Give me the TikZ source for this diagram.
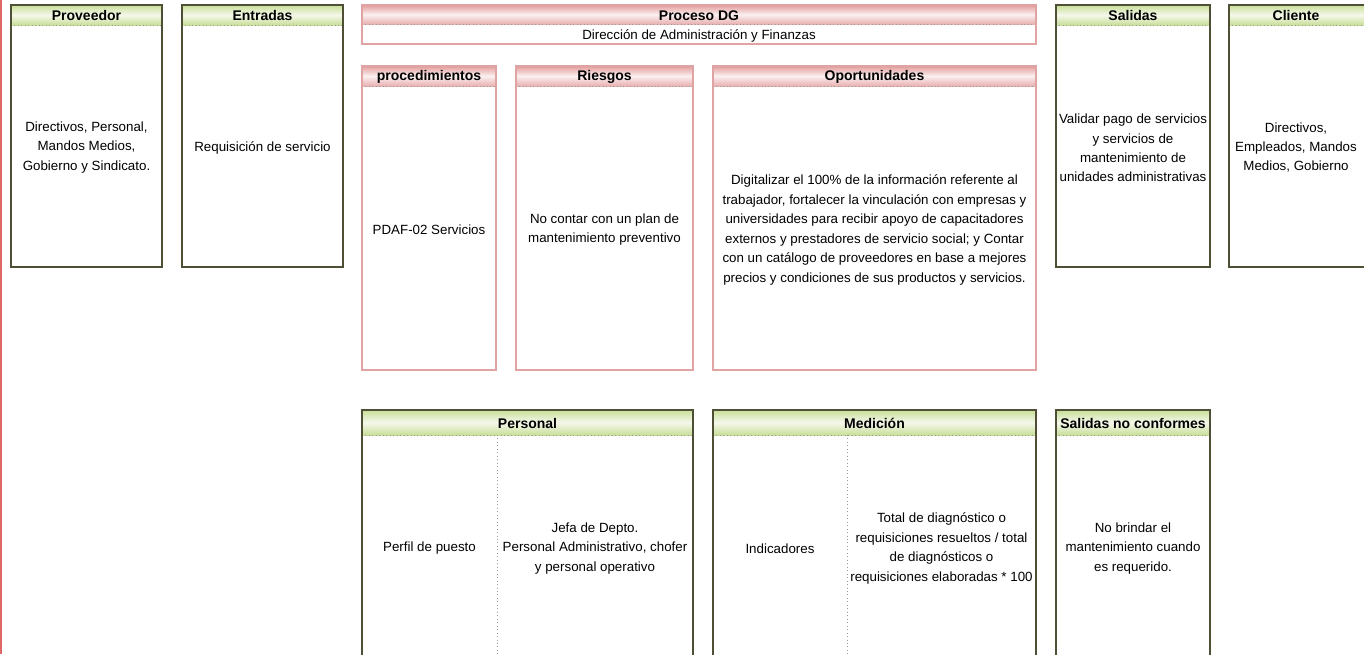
\documentclass[tikz,border=0pt]{standalone}
\usepackage{fontspec}
\setmainfont{Liberation Sans}
\usetikzlibrary{backgrounds}

\definecolor{gline}{HTML}{4F4F35}
\definecolor{gfill}{HTML}{C9DE98}
\definecolor{rline}{HTML}{E0A3A3}
\definecolor{rfill}{HTML}{E39C9C}
\definecolor{sepline}{HTML}{9A9A9A}
\definecolor{edge}{HTML}{E06868}

\tikzset{
  gbox/.style={draw=gline, line width=1.5pt},
  rbox/.style={draw=rline, line width=1.5pt},
  ghead/.style={top color=gfill, bottom color=gfill, middle color=gfill!20},
  rhead/.style={top color=rfill, bottom color=rfill!80, middle color=rfill!15},
  htext/.style={font=\fontsize{10.5}{12}\selectfont\bfseries},
  btext/.style={align=center, font=\fontsize{10}{14.6}\selectfont},
  sep/.style={draw=sepline, dotted, line width=0.6pt}
}

\begin{document}
\begin{tikzpicture}[x=0.75pt, y=-0.75pt]
  \useasboundingbox (0,0) rectangle (1364,654);
  \clip (0,0) rectangle (1364,654);
  \fill[white] (0,0) rectangle (1364,654);
  \draw[edge, line width=1.5pt] (0.5,0) -- (0.5,654);

  % proveedor / entradas
  \path[ghead] (11,5) rectangle (162,25);
  \draw[sep] (11,25) -- (162,25);
  \draw[gbox] (11,5) rectangle (162,267);
  \node[htext] (provh) at (86.5,15.5) {Proveedor};
  \node[btext] (prov) at (86.5,147.5) {Directivos, Personal,\\Mandos Medios,\\Gobierno y Sindicato.};

  \path[ghead] (182,5) rectangle (343,25);
  \draw[sep] (182,25) -- (343,25);
  \draw[gbox] (182,5) rectangle (343,267);
  \node[htext] (enth) at (262.5,15.5) {Entradas};
  \node[btext] (ent) at (262.5,147.5) {Requisición de servicio};

  % proceso
  \path[rhead] (362,5) rectangle (1036,24);
  \draw[sep] (362,24.5) -- (1036,24.5);
  \draw[rbox] (362,5) rectangle (1036,44);
  \node[htext] (proch) at (699,15.5) {Proceso DG};
  \node[btext] (proc) at (699,36) {Dirección de Administración y Finanzas};

  \path[rhead] (362,66) rectangle (496,86);
  \draw[sep] (362,86) -- (496,86);
  \draw[rbox] (362,66) rectangle (496,370);
  \node[htext] (proch2) at (429,76.5) {procedimientos};
  \node[btext] (proced) at (429,229.5) {PDAF-02 Servicios};

  \path[rhead] (516,66) rectangle (693,86);
  \draw[sep] (516,86) -- (693,86);
  \draw[rbox] (516,66) rectangle (693,370);
  \node[htext] (riesh) at (604.5,76.5) {Riesgos};
  \node[btext] (ries) at (604.5,229.5) {No contar con un plan de\\mantenimiento preventivo};

  \path[rhead] (713,66) rectangle (1036,86);
  \draw[sep] (713,86) -- (1036,86);
  \draw[rbox] (713,66) rectangle (1036,370);
  \node[htext] (oporh) at (874.5,76.5) {Oportunidades};
  \node[btext] (opor) at (874.5,230) {Digitalizar el 100\% de la información referente al\\trabajador, fortalecer la vinculación con empresas y\\universidades para recibir apoyo de capacitadores\\externos y prestadores de servicio social; y Contar\\con un catálogo de proveedores en base a mejores\\precios y condiciones de sus productos y servicios.};

  % salidas / cliente
  \path[ghead] (1056,5) rectangle (1210,25);
  \draw[sep] (1056,25) -- (1210,25);
  \draw[gbox] (1056,5) rectangle (1210,267);
  \node[htext] (salh) at (1133,15.5) {Salidas};
  \node[btext] (sal) at (1133,148) {Validar pago de servicios\\y servicios de\\mantenimiento de\\unidades administrativas};

  \path[ghead] (1229,5) rectangle (1370,25);
  \draw[sep] (1229,25) -- (1370,25);
  \draw[gbox] (1229,5) rectangle (1370,267);
  \node[htext] (clih) at (1296,15.5) {Cliente};
  \node[btext] (cli) at (1296,147.5) {Directivos,\\Empleados, Mandos\\Medios, Gobierno};

  % fila inferior
  \path[ghead] (362,410) rectangle (693,435);
  \draw[sep] (362,435) -- (693,435);
  \draw[sep] (497,435) -- (497,660);
  \draw[gbox] (362,410) rectangle (693,680);
  \node[htext] (persh) at (527.5,423) {Personal};
  \node[btext] (perf) at (429.5,548.5) {Perfil de puesto};
  \node[btext] (pers) at (595,548.5) {Jefa de Depto.\\Personal Administrativo, chofer\\y personal operativo};

  \path[ghead] (713,410) rectangle (1036,435);
  \draw[sep] (713,435) -- (1036,435);
  \draw[sep] (847,435) -- (847,660);
  \draw[gbox] (713,410) rectangle (1036,680);
  \node[htext] (medh) at (874.5,423) {Medición};
  \node[btext] (ind) at (780,548.5) {Indicadores};
  \node[btext] (med) at (941.5,548.5) {Total de diagnóstico o\\requisiciones resueltos / total\\de diagnósticos o\\requisiciones elaboradas * 100};

  \path[ghead] (1056,410) rectangle (1210,435);
  \draw[sep] (1056,435) -- (1210,435);
  \draw[gbox] (1056,410) rectangle (1210,680);
  \node[htext] (snch) at (1133,423) {Salidas no conformes};
  \node[btext] (snc) at (1133,548.5) {No brindar el\\mantenimiento cuando\\es requerido.};
\end{tikzpicture}
\end{document}
